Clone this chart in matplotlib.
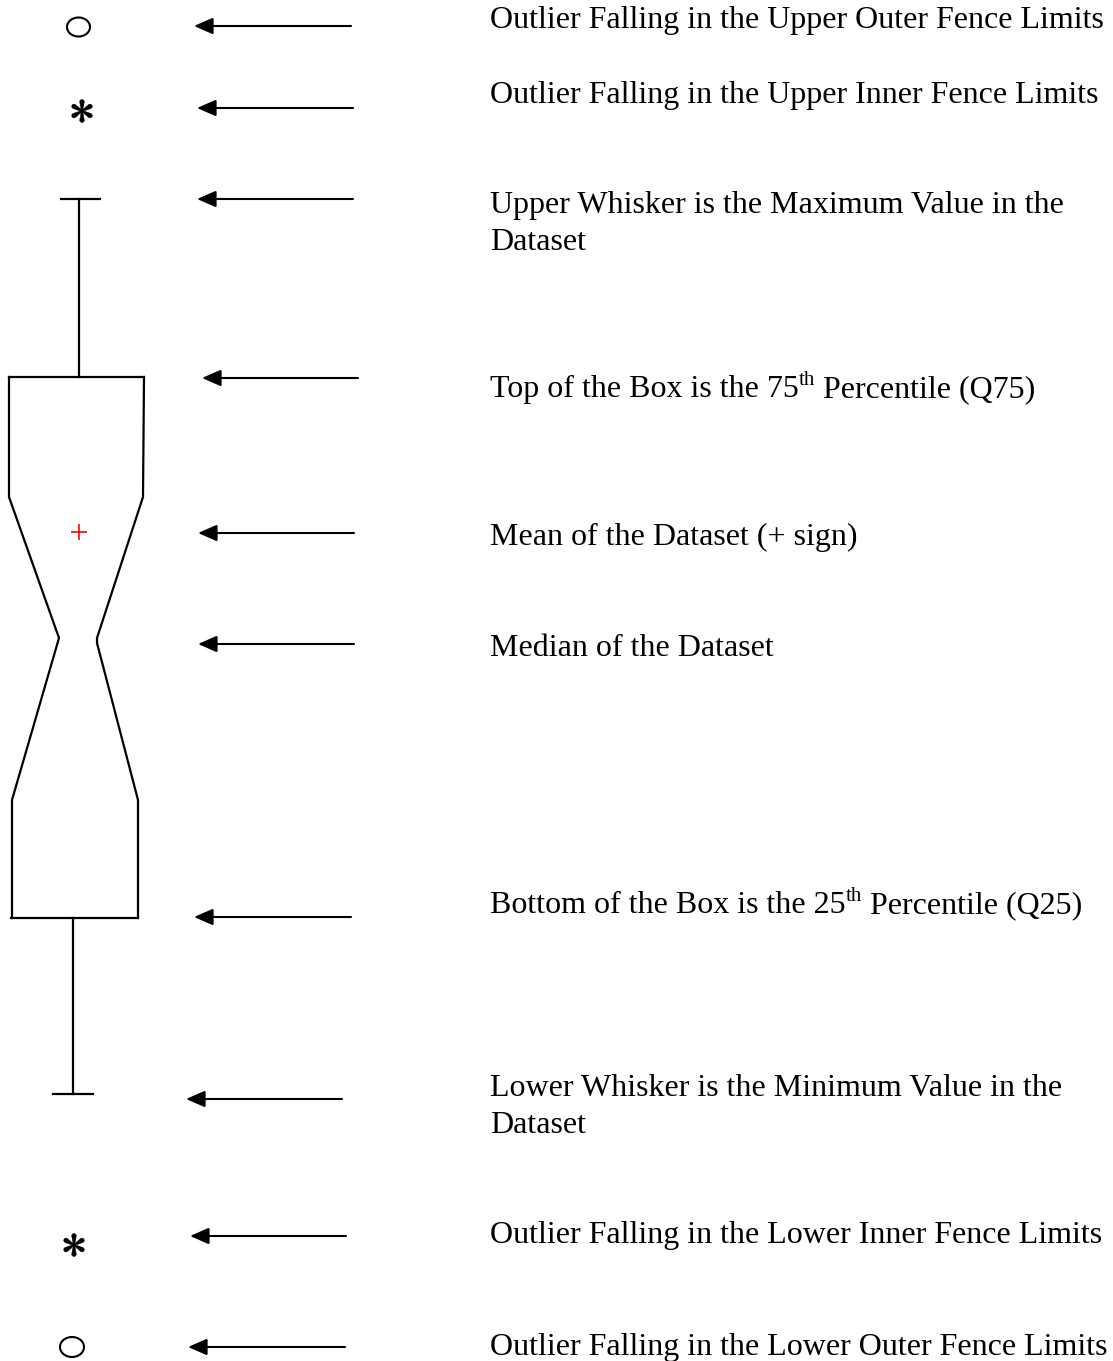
import matplotlib
matplotlib.use("Agg")
import matplotlib.pyplot as plt
from matplotlib.patches import Ellipse, ArrowStyle, Polygon
import numpy as np

# ---- schematic values (diagram units, y grows downward) ----
upper_outer_outlier = 27
upper_inner_outlier = 111
whisker_max = 199
q75 = 377
notch_top = 497
mean_value = 532
median_value = 638
notch_bottom = 800
q25 = 918
whisker_min = 1094
lower_inner_outlier = 1245
lower_outer_outlier = 1347

# each label line: list of (text, is_superscript) runs
labels = [
    [[("Outlier Falling in the Upper Outer Fence Limits", False)]],
    [[("Outlier Falling in the Upper Inner Fence Limits", False)]],
    [[("Upper Whisker is the Maximum Value in the", False)], [("Dataset", False)]],
    [[("Top of the Box is the 75", False), ("th", True), (" Percentile (Q75)", False)]],
    [[("Mean of the Dataset (+ sign)", False)]],
    [[("Median of the Dataset", False)]],
    [[("Bottom of the Box is the 25", False), ("th", True), (" Percentile (Q25)", False)]],
    [[("Lower Whisker is the Minimum Value in the", False)], [("Dataset", False)]],
    [[("Outlier Falling in the Lower Inner Fence Limits", False)]],
    [[("Outlier Falling in the Lower Outer Fence Limits", False)]],
]
label_baselines = [28, 103, 213, 397, 545, 656, 913, 1096, 1243, 1355]
arrow_levels = [26, 108, 199, 378, 533, 644, 917, 1099, 1236, 1347]
arrow_tails = [351, 353, 353, 358, 354, 354, 351, 342, 346, 345]
arrow_tips = [194, 197, 197, 202, 198, 198, 194, 186, 190, 188]

W, H = 1113, 1361
fig = plt.figure(figsize=(W / 100, H / 100), dpi=100)
ax = fig.add_axes([0, 0, 1, 1])
ax.set_xlim(0, W)
ax.set_ylim(H, 0)
ax.axis('off')

lw = 1.6
k = 'black'

# upper whisker + cap
ax.plot([79, 79], [whisker_max, q75], color=k, lw=lw)
ax.plot([61, 100], [whisker_max, whisker_max], color=k, lw=lw)
# box top
ax.plot([9, 144], [q75, q75], color=k, lw=lw)
# left outline
ax.plot([9, 9, 59, 12, 12], [q75, notch_top, median_value, notch_bottom, q25],
        color=k, lw=lw, solid_joinstyle='miter')
# right outline
ax.plot([144, 143, 97, 97, 138, 138],
        [q75, notch_top, median_value, median_value + 5, notch_bottom, q25],
        color=k, lw=lw, solid_joinstyle='miter')
# box bottom
ax.plot([11, 138], [q25, q25], color=k, lw=lw)
# lower whisker + cap
ax.plot([73, 73], [q25, whisker_min], color=k, lw=lw)
ax.plot([53, 93], [whisker_min, whisker_min], color=k, lw=lw)

# mean marker
ax.plot([79], [mean_value], marker='+', color='red', markersize=12, mew=1.2)

# outliers: circles
ax.add_patch(Ellipse((78.5, upper_outer_outlier), 23, 19, fill=False, lw=1.5, ec=k))
ax.add_patch(Ellipse((72, lower_outer_outlier), 24, 20, fill=False, lw=1.5, ec=k))


# outliers: six-spoke teardrop asterisks
def asterisk(cx, cy, L=11.5, r=2.3, w0=0.6):
    for a_deg in (90, 30, -30, -90, -150, 150):
        a = np.radians(a_deg)
        d = np.array([np.cos(a), np.sin(a)])
        p = np.array([-d[1], d[0]])
        c = np.array([cx, cy]) + d * (L - r)
        ang = np.linspace(a - np.radians(100), a + np.radians(100), 24)
        arc = np.column_stack([c[0] + r * np.cos(ang), c[1] + r * np.sin(ang)])
        base = np.array([[cx, cy]]) - p * w0
        base2 = np.array([[cx, cy]]) + p * w0
        pts = np.vstack([base, arc, base2])
        ax.add_patch(Polygon(pts, closed=True, fc=k, ec=k, lw=0.3))


asterisk(82, upper_inner_outlier)
asterisk(74, lower_inner_outlier)

# arrows
style = ArrowStyle('-|>', head_length=0.46, head_width=0.2)
for yv, xt, xh in zip(arrow_levels, arrow_tails, arrow_tips):
    ax.annotate("", xy=(xh, yv), xytext=(xt, yv),
                arrowprops=dict(arrowstyle=style, mutation_scale=25, lw=1.5,
                                color=k, shrinkA=0, shrinkB=0))

# labels
fs = 23
fs_sup = 15
sup_rise = 12
renderer = fig.canvas.get_renderer()
inv = ax.transData.inverted()
for lines, base in zip(labels, label_baselines):
    for i, runs in enumerate(lines):
        x = 490
        y = base + i * 37
        for txt, sup in runs:
            t = ax.text(x, y - (sup_rise if sup else 0), txt,
                        fontsize=fs_sup if sup else fs, family='Liberation Serif',
                        ha='left', va='baseline', color=k)
            bb = t.get_window_extent(renderer=renderer)
            x = inv.transform((bb.x1, bb.y0))[0]

fig.savefig("out.png", dpi=100)
